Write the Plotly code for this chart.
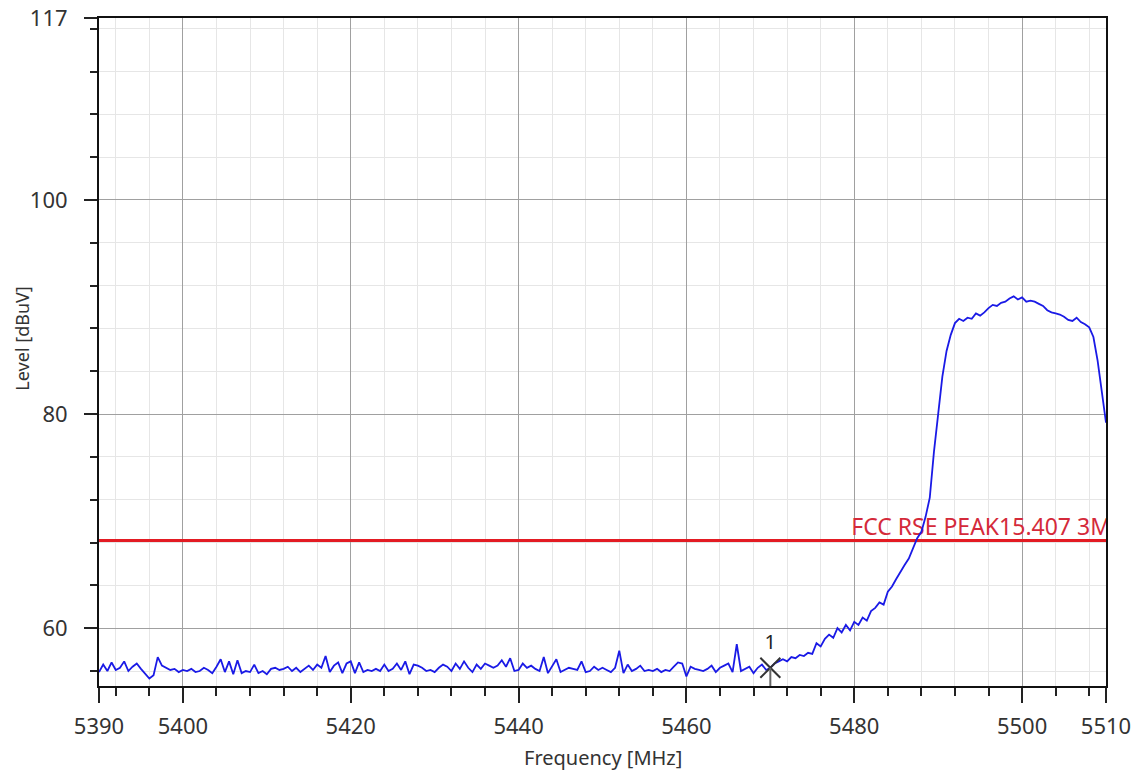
import plotly.graph_objects as go

# ---- data ----
freq_start = 5390.0
freq_step = 0.5
level_dbuv = [
    # 5390 - 5420
    55.9, 56.6, 56.0, 56.8, 56.1, 56.3, 56.9, 56.0, 56.4, 56.7,
    56.2, 55.8, 55.3, 55.6, 57.3, 56.5, 56.3, 56.1, 56.2, 55.9,
    56.1, 56.0, 56.2, 55.9, 56.0, 56.3, 56.1, 55.8, 56.4, 57.1,
    55.9, 56.9, 55.7, 57.0, 55.8, 56.0, 55.9, 56.6, 55.8, 56.0,
    55.7, 56.2, 56.3, 56.1, 56.2, 56.4, 56.0, 56.3, 55.9, 56.2,
    56.5, 56.1, 56.6, 56.3, 57.4, 55.9, 56.5, 56.8, 55.8, 56.7,
    56.9,
    # 5420.5 - 5450
    55.8, 56.8, 55.9, 56.1, 56.0, 56.2, 56.0, 56.6, 56.0, 56.2,
    56.7, 56.1, 56.9, 55.7, 56.6, 56.5, 56.3, 56.0, 56.1, 55.9,
    56.3, 56.6, 56.4, 56.0, 56.7, 56.2, 56.9, 56.3, 55.9, 56.6,
    56.2, 56.7, 56.5, 56.3, 56.5, 57.0, 56.4, 57.2, 56.0, 56.1,
    56.7, 56.3, 56.5, 56.2, 56.0, 57.3, 55.8, 56.4, 57.1, 55.9,
    56.1, 56.3, 56.2, 56.1, 56.9, 55.9, 56.0, 56.4, 56.1, 56.3,
    # 5450.5 - 5480
    56.1, 55.9, 56.3, 57.9, 55.8, 56.6, 56.0, 56.2, 56.5, 56.0,
    56.1, 56.0, 56.2, 55.9, 56.1, 56.0, 56.4, 56.8, 56.7, 55.5,
    56.4, 56.2, 56.1, 56.0, 56.2, 56.5, 55.9, 56.3, 56.5, 56.7,
    55.9, 58.5, 56.0, 56.2, 56.4, 55.8, 56.3, 56.6, 56.1, 56.3,
    56.7, 56.9, 57.1, 56.9, 57.3, 57.2, 57.5, 57.4, 57.7, 57.6,
    58.6, 58.3, 59.0, 59.4, 59.1, 60.0, 59.6, 60.3, 59.8, 60.6,
    # 5480.5 - 5510
    60.3, 61.0, 60.7, 61.6, 61.9, 62.4, 62.2, 63.4, 63.9, 64.6,
    65.3, 65.9, 66.5, 67.4, 68.4, 69.0, 70.4, 72.2, 76.5, 80.0,
    83.5, 85.9, 87.4, 88.5, 88.9, 88.7, 89.0, 88.9, 89.4, 89.2,
    89.5, 89.9, 90.2, 90.1, 90.4, 90.5, 90.8, 91.0, 90.7, 90.9,
    90.5, 90.6, 90.5, 90.3, 90.1, 89.7, 89.5, 89.4, 89.3, 89.1,
    88.8, 88.7, 89.0, 88.6, 88.4, 88.1, 87.2, 85.0, 82.3, 79.2,
]
freq_mhz = [freq_start + i * freq_step for i in range(len(level_dbuv))]

limit_name = "FCC RSE PEAK15.407 3M"
limit_level = 68.2
limit_freqs = [5390, 5510]

marker_label = "1"
marker_freq = 5470.0
marker_level = 56.3

x_tickvals = [5390, 5400, 5420, 5440, 5460, 5480, 5500, 5510]
y_tickvals = [60, 80, 100, 117]

x_range = [5390, 5510]
y_range = [54.6, 117]

x_title = "Frequency [MHz]"
y_title = "Level [dBuV]"

FONT = "Noto Sans"

# ---- figure ----
fig = go.Figure()

# limit line
fig.add_trace(go.Scatter(
    x=limit_freqs, y=[limit_level] * len(limit_freqs),
    mode="lines", line=dict(color="#e31b23", width=3),
    hoverinfo="skip", showlegend=False,
))

# limit label (clipped at the right edge like the reference)
fig.add_trace(go.Scatter(
    x=[x_range[1] + 0.6], y=[limit_level], mode="text",
    text=[limit_name], textposition="top left",
    textfont=dict(family=FONT, size=23, color="#d42a3a"),
    cliponaxis=True, hoverinfo="skip", showlegend=False,
))

# measured trace
fig.add_trace(go.Scatter(
    x=freq_mhz, y=level_dbuv, mode="lines",
    line=dict(color="#1a1ae6", width=1.8),
    showlegend=False,
))

# marker drop line
fig.add_shape(type="line", xref="x", yref="y",
              x0=marker_freq, x1=marker_freq, y0=y_range[0], y1=marker_level,
              line=dict(color="#666666", width=2))

# marker
fig.add_trace(go.Scatter(
    x=[marker_freq], y=[marker_level], mode="markers+text",
    marker=dict(symbol="x-thin", size=20, line=dict(color="#333333", width=2)),
    text=[marker_label], textposition="top center",
    textfont=dict(family=FONT, size=20, color="#222222"),
    showlegend=False,
))

axis_common = dict(
    showline=True, linecolor="#111111", linewidth=2, mirror=True,
    ticks="outside", tickcolor="#222222", tickwidth=2,
    showgrid=True, gridcolor="#a0a0a0", gridwidth=1,
    zeroline=False, automargin=False, ticklabeloverflow="allow",
    tickfont=dict(family=FONT, size=22, color="#333333"),
)

fig.update_xaxes(
    **axis_common, range=x_range, tickmode="array", tickvals=x_tickvals,
    ticklen=15, ticklabelstandoff=5,
    minor=dict(dtick=4, tick0=5400, ticks="outside", ticklen=8,
               tickcolor="#222222", tickwidth=2,
               showgrid=True, gridcolor="#e6e6e6", gridwidth=1),
)
fig.update_yaxes(
    **axis_common, range=y_range, tickmode="array", tickvals=y_tickvals,
    ticklen=13, ticklabelstandoff=12,
    minor=dict(dtick=4, tick0=60, ticks="outside", ticklen=7,
               tickcolor="#222222", tickwidth=2,
               showgrid=True, gridcolor="#e6e6e6", gridwidth=1),
)

# axis titles
fig.add_annotation(
    text=x_title, xref="paper", yref="paper", x=0.5, y=0,
    yshift=-71, xanchor="center", yanchor="middle", showarrow=False,
    font=dict(family=FONT, size=20, color="#333333"),
)
fig.add_annotation(
    text=y_title, xref="paper", yref="paper", x=0, y=0.52,
    xshift=-77, xanchor="center", yanchor="middle", showarrow=False,
    textangle=-90, font=dict(family=FONT, size=18, color="#333333"),
)

fig.update_layout(
    width=1138, height=776,
    margin=dict(l=99, r=32, t=18, b=90),
    paper_bgcolor="white", plot_bgcolor="white",
    showlegend=False,
)

# remove the default 8 px page margin so the figure fills the window exactly
fig.write_html(
    "out.html",
    config={"displayModeBar": False},
    post_script="document.body.style.margin='0';document.body.style.overflow='hidden';",
)
